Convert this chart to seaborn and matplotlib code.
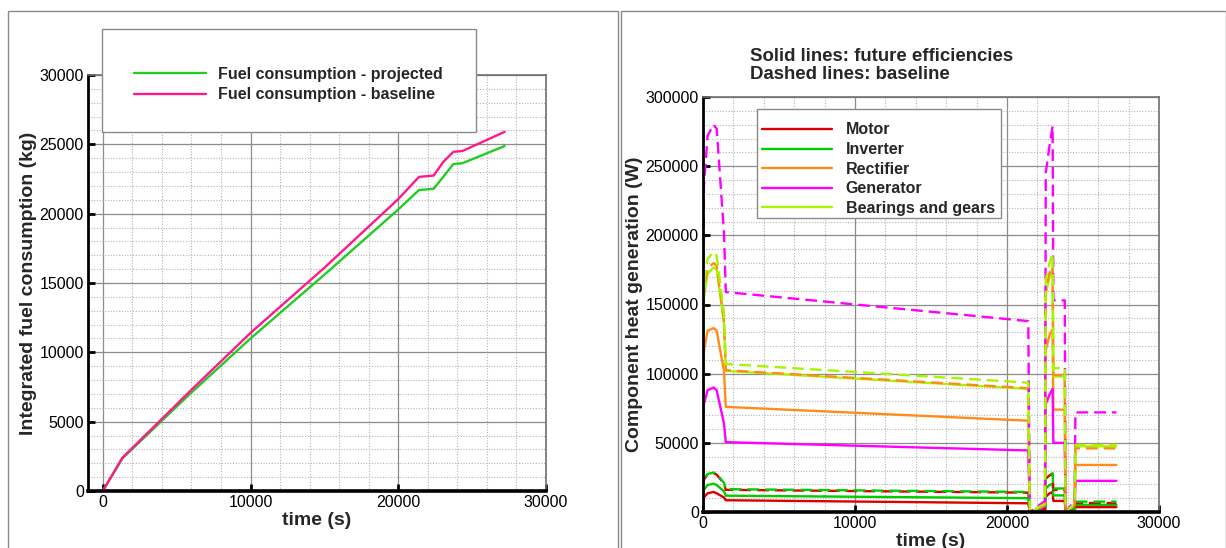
import numpy as np
import pandas as pd
import matplotlib
matplotlib.use("Agg")
import matplotlib.pyplot as plt
import seaborn as sns
from matplotlib.ticker import MultipleLocator, StrMethodFormatter
from matplotlib.patches import Rectangle

sns.set_theme(style="white")
plt.rcParams['font.family'] = ['Liberation Sans', 'DejaVu Sans']

# ---------------- Left panel data ----------------
t_fuel = [0, 1330, 6000, 10000, 15000, 20000, 21400, 22400, 23050, 23730, 24350, 27200]
fuel_projected = [0, 2350, 7100, 11000, 15600, 20300, 21700, 21800, 22660, 23580, 23640, 24880]
fuel_baseline = [0, 2400, 7300, 11400, 16100, 21050, 22650, 22750, 23740, 24460, 24520, 25900]

# ---------------- Right panel data ----------------
t_heat = [0, 60, 300, 700, 900, 1380, 1500, 21400, 21500, 22500, 22550, 22800,
          23000, 23050, 23800, 23850, 24450, 24500, 27200]

motor_future = [0, 10500, 13500, 14500, 13500, 10500, 8500, 6300, 0, 700, 11000, 13500,
                14500, 8000, 8000, 0, 700, 3500, 3500]
inverter_future = [0, 16000, 19500, 20500, 19500, 15000, 11800, 10000, 0, 1000, 17000, 19500,
                   20500, 12000, 12000, 0, 1000, 5200, 5200]
rectifier_future = [0, 116000, 131000, 133000, 131000, 102000, 76000, 66000, 0, 4000, 117000, 128000,
                    132000, 74000, 74000, 0, 4000, 34000, 34000]
generator_future = [0, 78000, 88000, 90000, 88000, 64000, 50500, 44500, 0, 3000, 78000, 85000,
                    89000, 50000, 50000, 0, 3000, 22500, 22500]
bearings_future = [0, 155000, 172000, 177000, 175000, 137000, 102000, 89000, 0, 5000, 157000, 170000,
                   176000, 98000, 98000, 0, 5000, 47500, 47500]

motor_baseline = [0, 23500, 27000, 28000, 27000, 20500, 16000, 14000, 0, 1500, 24000, 26500,
                  27500, 16000, 16000, 0, 1500, 6500, 6500]
inverter_baseline = [0, 24000, 27500, 28500, 27500, 21000, 16500, 14500, 0, 1500, 25000, 27000,
                     28000, 17000, 17000, 0, 1500, 7500, 7500]
rectifier_baseline = [0, 158000, 176000, 180000, 178000, 138000, 102500, 89500, 0, 5000, 160000, 173000,
                      178000, 99000, 99000, 0, 5000, 46000, 46000]
generator_baseline = [0, 235000, 272000, 280000, 277000, 202000, 159000, 138000, 0, 8000, 245000, 265000,
                      279000, 153000, 153000, 0, 8000, 72000, 72000]
bearings_baseline = [0, 165000, 183000, 188000, 185000, 144000, 107000, 93500, 0, 6000, 168000, 180000,
                     187000, 104000, 104000, 0, 6000, 48500, 48500]

component_names = ["Motor", "Inverter", "Rectifier", "Generator", "Bearings and gears"]
component_colors = ["#dd0000", "#00cc00", "#ff8c1a", "#ff00ff", "#a8f500"]

W, H = 1226, 548
fig = plt.figure(figsize=(W / 100, H / 100), dpi=100)

# panel frames
for x0, x1 in [(8, 618), (621, 1226)]:
    fig.add_artist(Rectangle((x0 / W, -0.01), (x1 - x0) / W, 1 - 11 / H + 0.01,
                             transform=fig.transFigure, fill=False,
                             edgecolor="#8a8a8a", lw=1.0))

ax1 = fig.add_axes([88 / W, 1 - 491 / H, 458 / W, 416 / H])
ax2 = fig.add_axes([703 / W, 1 - 512 / H, 456 / W, 415 / H])


def style_axes(ax, xminor, yminor):
    ax.xaxis.set_minor_locator(MultipleLocator(xminor))
    ax.yaxis.set_minor_locator(MultipleLocator(yminor))
    ax.grid(which="major", color="#8c8c8c", lw=0.9, ls="-")
    ax.grid(which="minor", color="#b4b4b4", lw=0.8, ls=(0, (1, 1.5)))
    ax.set_axisbelow(True)
    ax.tick_params(which="major", direction="in", length=5, width=2, color="black",
                   labelsize=11.5, pad=3, left=True, bottom=True, top=False, right=False,
                   labelcolor="black")
    ax.tick_params(which="minor", length=0)
    ax.spines["left"].set_color("black")
    ax.spines["left"].set_linewidth(2.0)
    ax.spines["bottom"].set_color("black")
    ax.spines["bottom"].set_linewidth(2.6)
    for s in ["top", "right"]:
        ax.spines[s].set_color("#707070")
        ax.spines[s].set_linewidth(1.2)
    ax.xaxis.set_major_formatter(StrMethodFormatter("{x:.0f}"))
    ax.yaxis.set_major_formatter(StrMethodFormatter("{x:.0f}"))


def legend_box(x0, y0, x1, y1):
    fig.add_artist(Rectangle((x0 / W, 1 - y1 / H), (x1 - x0) / W, (y1 - y0) / H,
                             transform=fig.transFigure, facecolor="white",
                             edgecolor="#8a8a8a", lw=1.0, zorder=4))


# ---------------- Left panel ----------------
sns.lineplot(x=t_fuel, y=fuel_projected, ax=ax1, color="#22cc22", lw=1.7,
             label="Fuel consumption - projected", estimator=None, legend=False)
sns.lineplot(x=t_fuel, y=fuel_baseline, ax=ax1, color="#ff1a8c", lw=1.7,
             label="Fuel consumption - baseline", estimator=None, legend=False)
ax1.set_xlim(-1000, 30000)
ax1.set_ylim(0, 30000)
ax1.set_xticks([0, 10000, 20000, 30000])
ax1.set_yticks(np.arange(0, 30001, 5000))
style_axes(ax1, 2000, 1000)
ax1.set_xlabel("time (s)", fontsize=14, fontweight="bold", labelpad=1)
ax1.set_ylabel("Integrated fuel consumption (kg)", fontsize=14, fontweight="bold", labelpad=2)
h1, l1 = ax1.get_legend_handles_labels()
if ax1.get_legend() is not None:
    ax1.get_legend().remove()
legend_box(102, 29, 476, 132)
leg1 = fig.legend(h1, l1, loc="upper left", bbox_to_anchor=(134 / W, 1 - 67 / H),
                  bbox_transform=fig.transFigure, prop={"weight": "bold", "size": 11.5},
                  frameon=False, borderpad=0, handlelength=4.5, handletextpad=0.75,
                  labelspacing=0.32, borderaxespad=0)
leg1.set_zorder(6)

# ---------------- Right panel ----------------
futures = [motor_future, inverter_future, rectifier_future, generator_future, bearings_future]
baselines = [motor_baseline, inverter_baseline, rectifier_baseline, generator_baseline, bearings_baseline]

for name, col, vals in zip(component_names, component_colors, futures):
    sns.lineplot(x=t_heat, y=vals, ax=ax2, color=col, lw=1.7, label=name, estimator=None)
handles, labels = ax2.get_legend_handles_labels()
if ax2.get_legend() is not None:
    ax2.get_legend().remove()

offsets = [3.75, 0, 0, 0, 0]
for col, vals, off in zip(component_colors, baselines, offsets):
    sns.lineplot(x=t_heat, y=vals, ax=ax2, color=col, lw=1.7, estimator=None,
                 linestyle=(off, (5, 2.5)))

ax2.set_xlim(0, 30000)
ax2.set_ylim(0, 300000)
ax2.set_xticks([0, 10000, 20000, 30000])
ax2.set_yticks(np.arange(0, 300001, 50000))
style_axes(ax2, 2000, 10000)
ax2.set_xlabel("time (s)", fontsize=14, fontweight="bold", labelpad=1)
ax2.set_ylabel("Component heat generation (W)", fontsize=14, fontweight="bold", labelpad=2)
if ax2.get_legend() is not None:
    ax2.get_legend().remove()
legend_box(757, 109, 1001, 218)
leg2 = fig.legend(handles, labels, loc="upper left", bbox_to_anchor=(762 / W, 1 - 122.5 / H),
                  bbox_transform=fig.transFigure, prop={"weight": "bold", "size": 11.5},
                  frameon=False, borderpad=0, handlelength=4.4, handletextpad=0.85,
                  labelspacing=0.29, borderaxespad=0)
leg2.set_zorder(6)

fig.text(750 / W, 1 - 48 / H, "Solid lines: future efficiencies\nDashed lines: baseline",
         ha="left", va="top", fontsize=13.4, fontweight="bold", linespacing=1.1)

fig.savefig("out.png", dpi=100, facecolor="white")
